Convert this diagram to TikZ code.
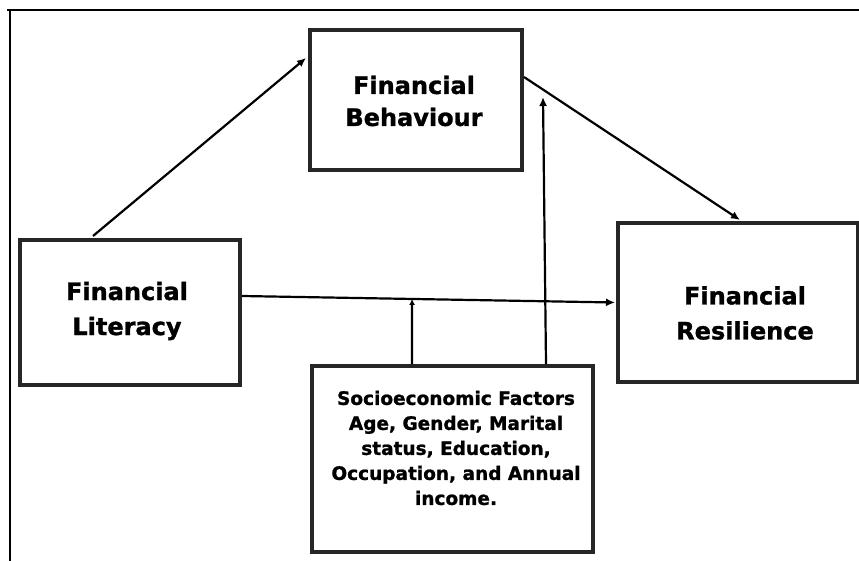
\documentclass[tikz,border=0pt]{standalone}
\usepackage{fontspec}
\setmainfont[BoldFeatures={FakeBold=1.2}]{DejaVu Sans}
\usetikzlibrary{arrows.meta,calc}
\begin{document}
\begin{tikzpicture}[x=1pt,y=-1pt,
  box/.style={draw=black!85,line width=4pt,fill=white,inner sep=0pt},
  ttl/.style={align=center,font=\bfseries\fontsize{24}{35}\selectfont},
  sfl/.style={align=center,font=\bfseries\fontsize{18.5}{25}\selectfont},
  arr/.style={line width=2.2pt,-{Latex[length=9pt,width=8pt]}},
  arrs/.style={line width=2.2pt,-{Latex[length=6pt,width=6pt]}},
  frame/.style={line width=1.8pt}]
\useasboundingbox (0,0) rectangle (859,561);
\coordinate (f1) at (7,10);
\coordinate (f2) at (859,10);
\coordinate (f3) at (10,10);
\coordinate (f4) at (10,561);
\draw[frame] (f1) -- (f2);
\draw[frame] (f3) -- (f4);
\node[box,minimum width=212,minimum height=140] (FB) at (416,100) {};
\node[box,minimum width=220,minimum height=145] (FL) at (130,312.5) {};
\node[box,minimum width=240,minimum height=159] (FR) at (738,302.5) {};
\node[box,minimum width=281,minimum height=186] (SE) at (452.5,459) {};
\node[ttl,font=\bfseries\fontsize{24}{32}\selectfont] (FBt) at (414,101) {Financial\\Behaviour};
\node[ttl] (FLt) at (127,311) {Financial\\Literacy};
\node[ttl] (FRt) at (745,313) {Financial\\Resilience};
\node[sfl] (SEt) at (456,448) {Socioeconomic Factors\\Age, Gender, Marital\\status, Education,\\Occupation, and Annual\\income.};
\coordinate (a) at ([xshift=-37pt,yshift=2pt]FL.north);
\coordinate (b) at ([xshift=-2pt,yshift=-30pt]FB.north west);
\draw[arr] (a) -- (b);
\draw[arr] ([yshift=23pt]FB.east) -- ([xshift=2pt,yshift=1pt]FR.north);
\coordinate (h1) at ([yshift=16.5pt]FL.east);
\coordinate (h2) at ([xshift=-1pt]FR.west);
\draw[arr] (h1) -- (h2);
\coordinate (m) at ($(h1)!0.456!(h2)$);
\draw[arrs] ([xshift=-40.5pt]SE.north) -- (m);
\coordinate (t) at (543,97);
\draw[arr] ([xshift=93.5pt]SE.north) -- (t);
\end{tikzpicture}
\end{document}
